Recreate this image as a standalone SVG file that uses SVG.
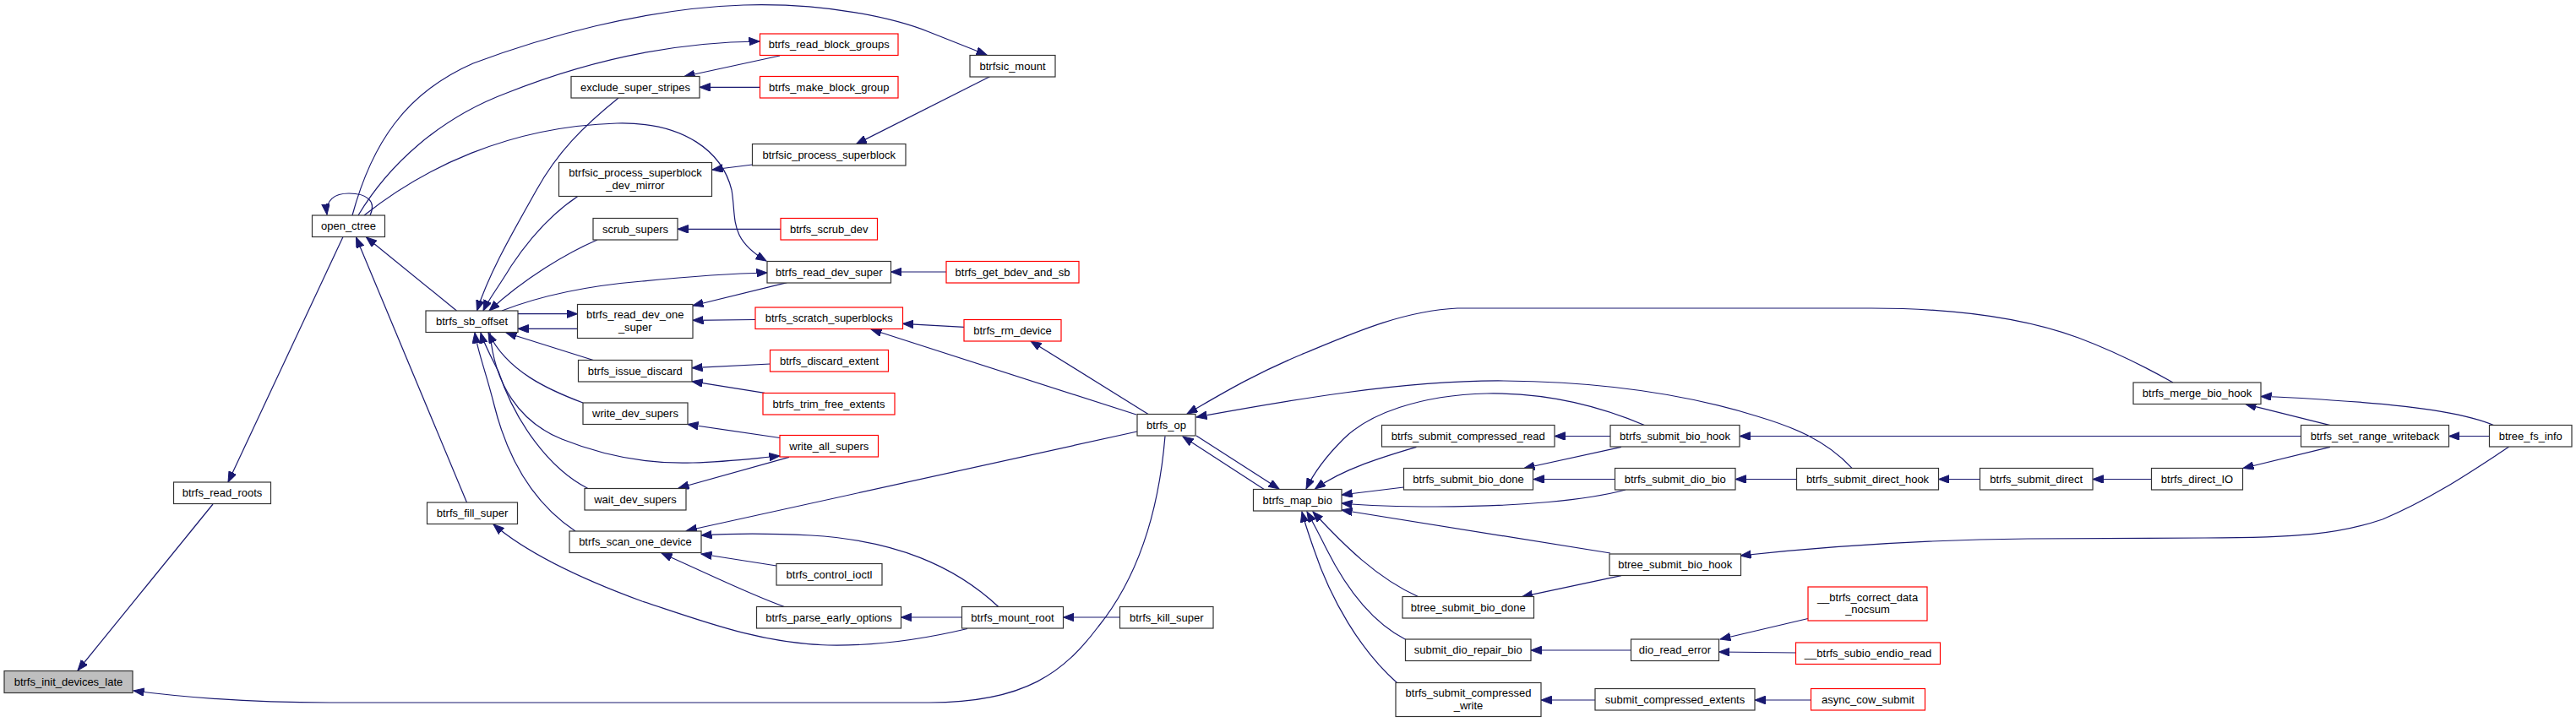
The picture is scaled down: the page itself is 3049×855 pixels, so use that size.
<svg xmlns="http://www.w3.org/2000/svg" width="3049" height="855" viewBox="0 0 3049 855">
<style>
.n rect{fill:#fff;stroke:#333;stroke-width:1.2}
.r rect{fill:#fff;stroke:#ff0000;stroke-width:1.2}
.g rect{fill:#bfbfbf;stroke:#333;stroke-width:1.2}
text{font-family:"Liberation Sans",Arial,sans-serif;font-size:13px;fill:#000;text-anchor:middle}
#edges path{fill:none;stroke:#191970;stroke-width:1.2;marker-end:url(#a)}
</style>
<defs>
<marker id="a" markerWidth="14" markerHeight="10" refX="12.5" refY="4.75" orient="auto" markerUnits="userSpaceOnUse">
<path d="M0,0 L12.5,4.75 L0,9.5 Z" fill="#191970" stroke="#191970" stroke-width="1"/>
</marker>
</defs>
<rect width="3049" height="855" fill="#fff"/>
<g id="edges">
<path d="M252,597 L92,794"/>
<path d="M406,280.5 L270,571"/>
<path d="M552.5,595 L421.5,281"/>
<path d="M540.5,368 L433.5,281"/>
<path d="M438,255 C446,238 434,229 413,229 C396,229 385,237 387,254"/>
<path d="M417,255 C440,170 480,110 560,75 C640,45 760,10 880,6 C980,3 1060,22 1100,38 C1130,50 1150,58 1168,65"/>
<path d="M424,255 C460,195 520,140 600,110 C680,78 780,50 899,49"/>
<path d="M431,255 C500,200 600,150 730,146 C810,144 855,180 866,225 C872,260 862,282 907,309"/>
<path d="M923,66 L810,90.5"/>
<path d="M899.5,103.3 L828,103.3"/>
<path d="M732,116 C690,150 660,180 635,225 C610,270 580,320 564.5,368"/>
<path d="M683.5,232.7 C650,255 625,285 605,315 C590,340 578,355 572,368"/>
<path d="M890.5,195 L843,201"/>
<path d="M1171.5,90.7 L1013.5,170.5"/>
<path d="M707,284 C670,300 620,330 579,368"/>
<path d="M924,271.3 L802,271.3"/>
<path d="M594,368 C640,350 700,338 760,333 C810,328 860,324 908,323"/>
<path d="M931.5,334.7 L820,362"/>
<path d="M613,371.7 L683.5,371.7"/>
<path d="M683.5,389.3 L613,389.3"/>
<path d="M894,378.5 L820,379.3"/>
<path d="M1141,387.3 L1068.5,383.3"/>
<path d="M1345,491 L1031,390"/>
<path d="M1359.5,490.7 L1220,404"/>
<path d="M703,426.7 L599,394"/>
<path d="M911.5,431 L819,435.7"/>
<path d="M905,465.3 L819,451.7"/>
<path d="M690,477 C650,462 600,440 578,394"/>
<path d="M695.5,578.3 C650,555 610,500 590,440 C580,420 572,405 569,394"/>
<path d="M681,629 C630,595 600,540 585,480 C575,440 565,415 562,394"/>
<path d="M580,394 C585,455 615,500 665,520 C710,538 760,550 820,548 C860,547 890,543 923,540"/>
<path d="M923,518.5 L814,502.5"/>
<path d="M934,541.3 L803,578"/>
<path d="M1346,511 L812.5,628.5"/>
<path d="M919,670 L830,656"/>
<path d="M929,718.7 C890,705 850,685 783,655"/>
<path d="M1182,718.7 C1130,670 1060,640 960,634 C900,631 860,632 830,634"/>
<path d="M1138.5,731 L1066.5,731"/>
<path d="M1325.5,731 L1258.5,731"/>
<path d="M1145,744.5 C1080,760 1030,765 980,764 C900,762 830,735 760,712 C700,690 630,660 584,621"/>
<path d="M1379,516.5 C1372,600 1350,680 1300,742 C1260,795 1215,832 1100,832 L390,832 C300,832 220,826 158,818"/>
<path d="M1416,516 L1514,579"/>
<path d="M1497,580 L1400,517"/>
<path d="M2572,453 C2540,435 2500,415 2460,400 C2400,378 2320,365 2215,365 L1725,365 C1660,368 1600,395 1540,420 C1480,445 1440,470 1405,490"/>
<path d="M2192,554.3 C2160,520 2120,505 2080,493 C2000,468 1900,452 1780,451 C1660,450 1520,475 1416,494"/>
<path d="M1676.5,529.3 C1640,540 1590,555 1556.5,579"/>
<path d="M1947,503.7 C1880,475 1820,465 1760,466 C1680,468 1620,490 1590,520 C1570,540 1555,560 1546,579"/>
<path d="M1906,516.5 L1840,516.5"/>
<path d="M1919,529.3 L1804,554.5"/>
<path d="M1661.5,577 L1588,586"/>
<path d="M1911.5,567.5 L1815,567.5"/>
<path d="M1924,580 C1880,592 1800,600 1700,600 C1650,600 1610,598 1588,596"/>
<path d="M2126.5,567.5 L2054,567.5"/>
<path d="M2723.5,516.5 L2059,516.5"/>
<path d="M1906,655 L1588,604"/>
<path d="M2969.5,529.3 C2930,555 2880,590 2820,615 C2770,632 2720,637 2610,637 L2400,638 C2300,639 2180,645 2060,658"/>
<path d="M1919,681.7 L1801.5,706.7"/>
<path d="M1679,706.7 C1630,685 1590,645 1554,606"/>
<path d="M1664,757.5 C1620,735 1590,690 1570,650 C1560,630 1552,615 1547,606"/>
<path d="M1653.5,808.5 C1610,770 1575,710 1555,650 C1548,630 1544,618 1541,606"/>
<path d="M1930.5,770 L1812,770"/>
<path d="M2140,732.5 L2036,757"/>
<path d="M2125.5,773 L2034.5,772"/>
<path d="M1888,829 L1824,829"/>
<path d="M2143.5,829 L2077,829"/>
<path d="M2343.5,567.5 L2294.5,567.5"/>
<path d="M2546.5,567.5 L2477,567.5"/>
<path d="M2758,529.3 L2655,554.5"/>
<path d="M2758,503.7 L2658,478.7"/>
<path d="M2952,503.7 C2920,490 2860,480 2760,474 C2720,471 2700,470 2676,469.5"/>
<path d="M2946.5,516.5 L2898.5,516.5"/>
<path d="M1120,322 L1054.5,322"/>
</g>
<g id="n_init" class="g"><rect x="5" y="794.5" width="152" height="26"/><text x="81" y="812">btrfs_init_devices_late</text></g>
<g id="n_read_roots" class="n"><rect x="205.5" y="571" width="115" height="25.5"/><text x="263" y="588">btrfs_read_roots</text></g>
<g id="n_open_ctree" class="n"><rect x="369.5" y="255" width="86" height="25.5"/><text x="412.5" y="272">open_ctree</text></g>
<g id="n_fill_super" class="n"><rect x="505.5" y="595" width="107" height="25.5"/><text x="559" y="612">btrfs_fill_super</text></g>
<g id="n_sb_offset" class="n"><rect x="504" y="368" width="109" height="25.5"/><text x="558.5" y="385">btrfs_sb_offset</text></g>
<g id="n_exclude" class="n"><rect x="676" y="90.5" width="152" height="25.5"/><text x="752" y="107.5">exclude_super_stripes</text></g>
<g id="n_dev_mirror" class="n"><rect x="661.5" y="192.5" width="181" height="40"/><text x="752" y="209">btrfsic_process_superblock</text><text x="752" y="223.5">_dev_mirror</text></g>
<g id="n_scrub_supers" class="n"><rect x="702" y="258.5" width="100" height="25.5"/><text x="752" y="275.5">scrub_supers</text></g>
<g id="n_read_dev_one" class="n"><rect x="683.5" y="360.5" width="136.5" height="40"/><text x="751.75" y="377">btrfs_read_dev_one</text><text x="751.75" y="391.5">_super</text></g>
<g id="n_issue_discard" class="n"><rect x="684.5" y="426.5" width="134.5" height="25.5"/><text x="751.75" y="443.5">btrfs_issue_discard</text></g>
<g id="n_write_dev_supers" class="n"><rect x="690" y="477" width="124" height="25.5"/><text x="752" y="494">write_dev_supers</text></g>
<g id="n_wait_dev_supers" class="n"><rect x="692" y="578.5" width="120" height="25.5"/><text x="752" y="595.5">wait_dev_supers</text></g>
<g id="n_scan" class="n"><rect x="674" y="629" width="156" height="25.5"/><text x="752" y="646">btrfs_scan_one_device</text></g>
<g id="n_read_block_groups" class="r"><rect x="899.5" y="40" width="163.5" height="25.5"/><text x="981.25" y="57">btrfs_read_block_groups</text></g>
<g id="n_make_block_group" class="r"><rect x="899.5" y="90.5" width="163.5" height="25.5"/><text x="981.25" y="107.5">btrfs_make_block_group</text></g>
<g id="n_btrfsic_mount" class="n"><rect x="1148" y="65.5" width="101" height="25.5"/><text x="1198.5" y="82.5">btrfsic_mount</text></g>
<g id="n_process_sb" class="n"><rect x="890.5" y="170.5" width="181.5" height="25.5"/><text x="981.25" y="187.5">btrfsic_process_superblock</text></g>
<g id="n_scrub_dev" class="r"><rect x="924" y="258.5" width="114.5" height="25.5"/><text x="981.25" y="275.5">btrfs_scrub_dev</text></g>
<g id="n_read_dev_super" class="n"><rect x="908" y="309.5" width="146.5" height="25.5"/><text x="981.25" y="326.5">btrfs_read_dev_super</text></g>
<g id="n_get_bdev" class="r"><rect x="1120" y="309.5" width="157" height="25.5"/><text x="1198.5" y="326.5">btrfs_get_bdev_and_sb</text></g>
<g id="n_scratch" class="r"><rect x="894" y="364" width="174.5" height="25.5"/><text x="981.25" y="381">btrfs_scratch_superblocks</text></g>
<g id="n_rm_device" class="r"><rect x="1141" y="378.5" width="115" height="25.5"/><text x="1198.5" y="395.5">btrfs_rm_device</text></g>
<g id="n_discard_extent" class="r"><rect x="911.5" y="414.5" width="140" height="25.5"/><text x="981.5" y="431.5">btrfs_discard_extent</text></g>
<g id="n_trim" class="r"><rect x="903" y="465.5" width="156" height="25.5"/><text x="981" y="482.5">btrfs_trim_free_extents</text></g>
<g id="n_write_all" class="r"><rect x="923" y="515.5" width="116.5" height="25.5"/><text x="981.25" y="532.5">write_all_supers</text></g>
<g id="n_control_ioctl" class="n"><rect x="919" y="667.5" width="125" height="25.5"/><text x="981.5" y="684.5">btrfs_control_ioctl</text></g>
<g id="n_parse_early" class="n"><rect x="895.5" y="718.5" width="171" height="25.5"/><text x="981" y="735.5">btrfs_parse_early_options</text></g>
<g id="n_mount_root" class="n"><rect x="1138.5" y="718.5" width="120" height="25.5"/><text x="1198.5" y="735.5">btrfs_mount_root</text></g>
<g id="n_kill_super" class="n"><rect x="1325.5" y="718.5" width="110.5" height="25.5"/><text x="1380.75" y="735.5">btrfs_kill_super</text></g>
<g id="n_btrfs_op" class="n"><rect x="1346" y="490.5" width="69" height="25.5"/><text x="1380.5" y="507.5">btrfs_op</text></g>
<g id="n_map_bio" class="n"><rect x="1483.5" y="579.5" width="104.5" height="25.5"/><text x="1535.75" y="596.5">btrfs_map_bio</text></g>
<g id="n_comp_read" class="n"><rect x="1635.5" y="503.5" width="204.5" height="25.5"/><text x="1737.75" y="520.5">btrfs_submit_compressed_read</text></g>
<g id="n_bio_hook" class="n"><rect x="1906" y="503.5" width="153" height="25.5"/><text x="1982.5" y="520.5">btrfs_submit_bio_hook</text></g>
<g id="n_bio_done" class="n"><rect x="1661.5" y="554.5" width="153" height="25.5"/><text x="1738" y="571.5">btrfs_submit_bio_done</text></g>
<g id="n_dio_bio" class="n"><rect x="1911.5" y="554.5" width="142.5" height="25.5"/><text x="1982.75" y="571.5">btrfs_submit_dio_bio</text></g>
<g id="n_direct_hook" class="n"><rect x="2126.5" y="554.5" width="168" height="25.5"/><text x="2210.5" y="571.5">btrfs_submit_direct_hook</text></g>
<g id="n_btree_hook" class="n"><rect x="1905" y="656" width="155.5" height="25.5"/><text x="1982.75" y="673">btree_submit_bio_hook</text></g>
<g id="n_btree_done" class="n"><rect x="1660" y="706.5" width="155.5" height="25.5"/><text x="1737.75" y="723.5">btree_submit_bio_done</text></g>
<g id="n_correct" class="r"><rect x="2140" y="695" width="141" height="40"/><text x="2210.5" y="711.5">__btrfs_correct_data</text><text x="2210.5" y="726">_nocsum</text></g>
<g id="n_repair" class="n"><rect x="1663.5" y="757" width="148.5" height="25.5"/><text x="1737.75" y="774">submit_dio_repair_bio</text></g>
<g id="n_dio_read_error" class="n"><rect x="1930.5" y="757" width="104" height="25.5"/><text x="1982.5" y="774">dio_read_error</text></g>
<g id="n_subio" class="r"><rect x="2125.5" y="761" width="171" height="25.5"/><text x="2211" y="778">__btrfs_subio_endio_read</text></g>
<g id="n_comp_write" class="n"><rect x="1652" y="808.5" width="172" height="40"/><text x="1738" y="825">btrfs_submit_compressed</text><text x="1738" y="839.5">_write</text></g>
<g id="n_comp_extents" class="n"><rect x="1888" y="815.5" width="189" height="25.5"/><text x="1982.5" y="832.5">submit_compressed_extents</text></g>
<g id="n_async" class="r"><rect x="2143.5" y="815.5" width="135" height="25.5"/><text x="2211" y="832.5">async_cow_submit</text></g>
<g id="n_submit_direct" class="n"><rect x="2343.5" y="554.5" width="133.5" height="25.5"/><text x="2410.25" y="571.5">btrfs_submit_direct</text></g>
<g id="n_direct_IO" class="n"><rect x="2546.5" y="554.5" width="108" height="25.5"/><text x="2600.5" y="571.5">btrfs_direct_IO</text></g>
<g id="n_merge" class="n"><rect x="2525" y="453" width="151" height="25.5"/><text x="2600.5" y="470">btrfs_merge_bio_hook</text></g>
<g id="n_set_range" class="n"><rect x="2723.5" y="503.5" width="175" height="25.5"/><text x="2811" y="520.5">btrfs_set_range_writeback</text></g>
<g id="n_btree_fs_info" class="n"><rect x="2946.5" y="503.5" width="97.5" height="25.5"/><text x="2995.25" y="520.5">btree_fs_info</text></g>
</svg>
